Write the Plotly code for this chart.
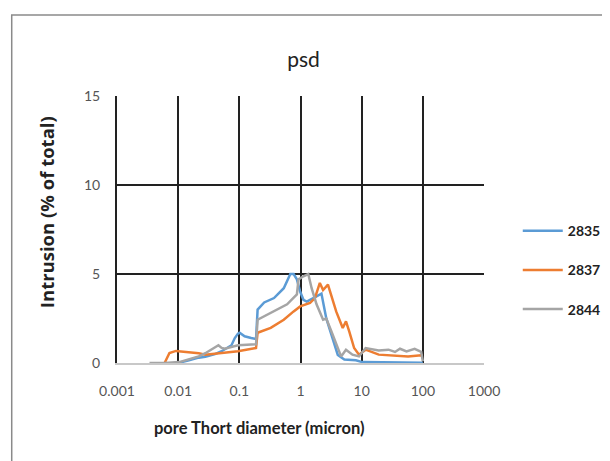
import plotly.graph_objects as go

# pore diameter (micron) and intrusion (% of total)
x_2835 = [0.0092, 0.0104, 0.015, 0.0217, 0.0278, 0.04, 0.0514, 0.0744, 0.0843, 0.095, 0.101, 0.122, 0.156, 0.1875,
          0.199, 0.255, 0.369, 0.533, 0.682, 0.772, 0.873, 0.989, 1.117, 1.264, 1.62, 2.07, 2.2, 2.64, 3.38, 4.07,
          5.21, 8.02, 10.3, 19.0, 35.1, 65.0, 100]
y_2835 = [0.0, 0.02, 0.15, 0.3, 0.35, 0.5, 0.66, 1.0, 1.4, 1.65, 1.7, 1.5, 1.4, 1.35,
          3.0, 3.4, 3.65, 4.2, 5.0, 5.0, 4.7, 4.0, 3.55, 3.45, 3.65, 3.85, 3.9, 2.5, 1.4, 0.45,
          0.2, 0.15, 0.05, 0.04, 0.03, 0.03, 0.02]

x_2837 = [0.006, 0.0072, 0.0092, 0.015, 0.0217, 0.0278, 0.0455, 0.095, 0.1875, 0.199, 0.326, 0.533, 0.772, 0.989,
          1.43, 1.72, 2.07, 2.34, 2.81, 3.18, 3.83, 4.9, 5.54, 6.26, 7.53, 9.06, 11.6, 19.0, 35.1, 57.4, 94, 100]
y_2837 = [0.0, 0.56, 0.68, 0.62, 0.55, 0.47, 0.56, 0.66, 0.84, 1.7, 1.97, 2.43, 2.9, 3.18,
          3.37, 3.65, 4.5, 4.1, 4.4, 3.75, 2.9, 1.97, 2.34, 1.78, 0.84, 0.47, 0.75, 0.47, 0.43, 0.37, 0.43, 0.4]

x_2844 = [0.0034, 0.006, 0.0104, 0.0217, 0.0278, 0.0455, 0.0514, 0.058, 0.095, 0.138, 0.1875, 0.199, 0.369, 0.604,
          0.873, 0.929, 1.117, 1.34, 1.52, 1.83, 2.34, 2.64, 3.18, 3.83, 4.61, 5.54, 7.08, 9.06, 11.6, 19.0,
          27.5, 35.1, 42.3, 54.1, 73.5, 94, 100]
y_2844 = [0.0, 0.0, 0.05, 0.37, 0.55, 1.0, 0.85, 0.8, 1.0, 1.05, 1.05, 2.43, 2.9, 3.3,
          3.85, 4.7, 4.87, 5.0, 4.2, 3.3, 2.43, 2.5, 1.8, 1.03, 0.37, 0.75, 0.47, 0.37, 0.84, 0.7,
          0.75, 0.62, 0.8, 0.65, 0.8, 0.62, 0.1]

series = [("2835", x_2835, y_2835, "#5B9BD5"),
          ("2837", x_2837, y_2837, "#ED7D31"),
          ("2844", x_2844, y_2844, "#A5A5A5")]

x_ticks = [0.001, 0.01, 0.1, 1, 10, 100, 1000]
x_ticktext = ["0.001", "0.01", "0.1", "1", "10", "100", "1000"]
y_ticks = [0, 5, 10, 15]

title_text = "psd"
x_title = "pore Thort diameter (micron)"
y_title = "Intrusion (% of total)"

font_family = "Lato, Open Sans, sans-serif"

fig = go.Figure()
for name, xs, ys, col in series:
    fig.add_trace(go.Scatter(x=xs, y=ys, name=name, mode="lines", legendgroup=name,
                             line=dict(color=col, width=2.5)))

L, R, T, B = 109, 128, 88, 106
PW, PH = 373, 267
fig.update_layout(
    width=610, height=461,
    paper_bgcolor="white", plot_bgcolor="white",
    margin=dict(l=L, r=R, t=T, b=B),
    font=dict(family=font_family, color="#333"),
    title=dict(text=title_text, x=(L + PW / 2) / 610, xanchor="center", y=1 - 52 / 461, yanchor="middle",
               font=dict(size=21, color="#222", family=font_family)),
    showlegend=True,
    legend=dict(x=1.092, y=0.554, xanchor="left", yanchor="top", tracegroupgap=18,
                font=dict(size=14, color="#222", family=font_family, weight="bold"), itemwidth=40,
                bgcolor="rgba(0,0,0,0)"),
    xaxis=dict(type="log", range=[-3, 3], tickvals=x_ticks, ticktext=x_ticktext,
               showgrid=True, gridcolor="#222", gridwidth=2,
               showline=True, linecolor="#C8C8C8", linewidth=2,
               ticks="", tickfont=dict(size=14, color="#555"), ticklabelstandoff=14,
               zeroline=False, automargin=False),
    yaxis=dict(range=[0, 15], tickvals=y_ticks, showgrid=True, gridcolor="#222", gridwidth=2,
               showline=True, linecolor="#222", linewidth=2, ticks="", ticklabelstandoff=12,
               tickfont=dict(size=14, color="#555"),
               zeroline=False, automargin=False),
    annotations=[
        dict(text="<b>" + x_title + "</b>", xref="paper", yref="paper",
             x=(261 - 117) / PW, y=(363 - 428) / PH, xanchor="center", yanchor="middle",
             showarrow=False, font=dict(size=16.5, color="#222", family=font_family)),
        dict(text="<b>" + y_title + "</b>", xref="paper", yref="paper", textangle=-90,
             x=(45 - 117) / PW, y=(363 - 212) / PH, xanchor="center", yanchor="middle",
             showarrow=False, font=dict(size=18.5, color="#222", family="Open Sans, sans-serif")),
    ],
    shapes=[dict(type="rect", xref="paper", yref="paper",
                 x0=(2 - L) / PW, x1=2.5, y0=-2.5, y1=(355 - 7) / PH,
                 line=dict(color="#8A8A8A", width=1.5), fillcolor="rgba(0,0,0,0)", layer="below")],
)

fig.write_html("out.html")
